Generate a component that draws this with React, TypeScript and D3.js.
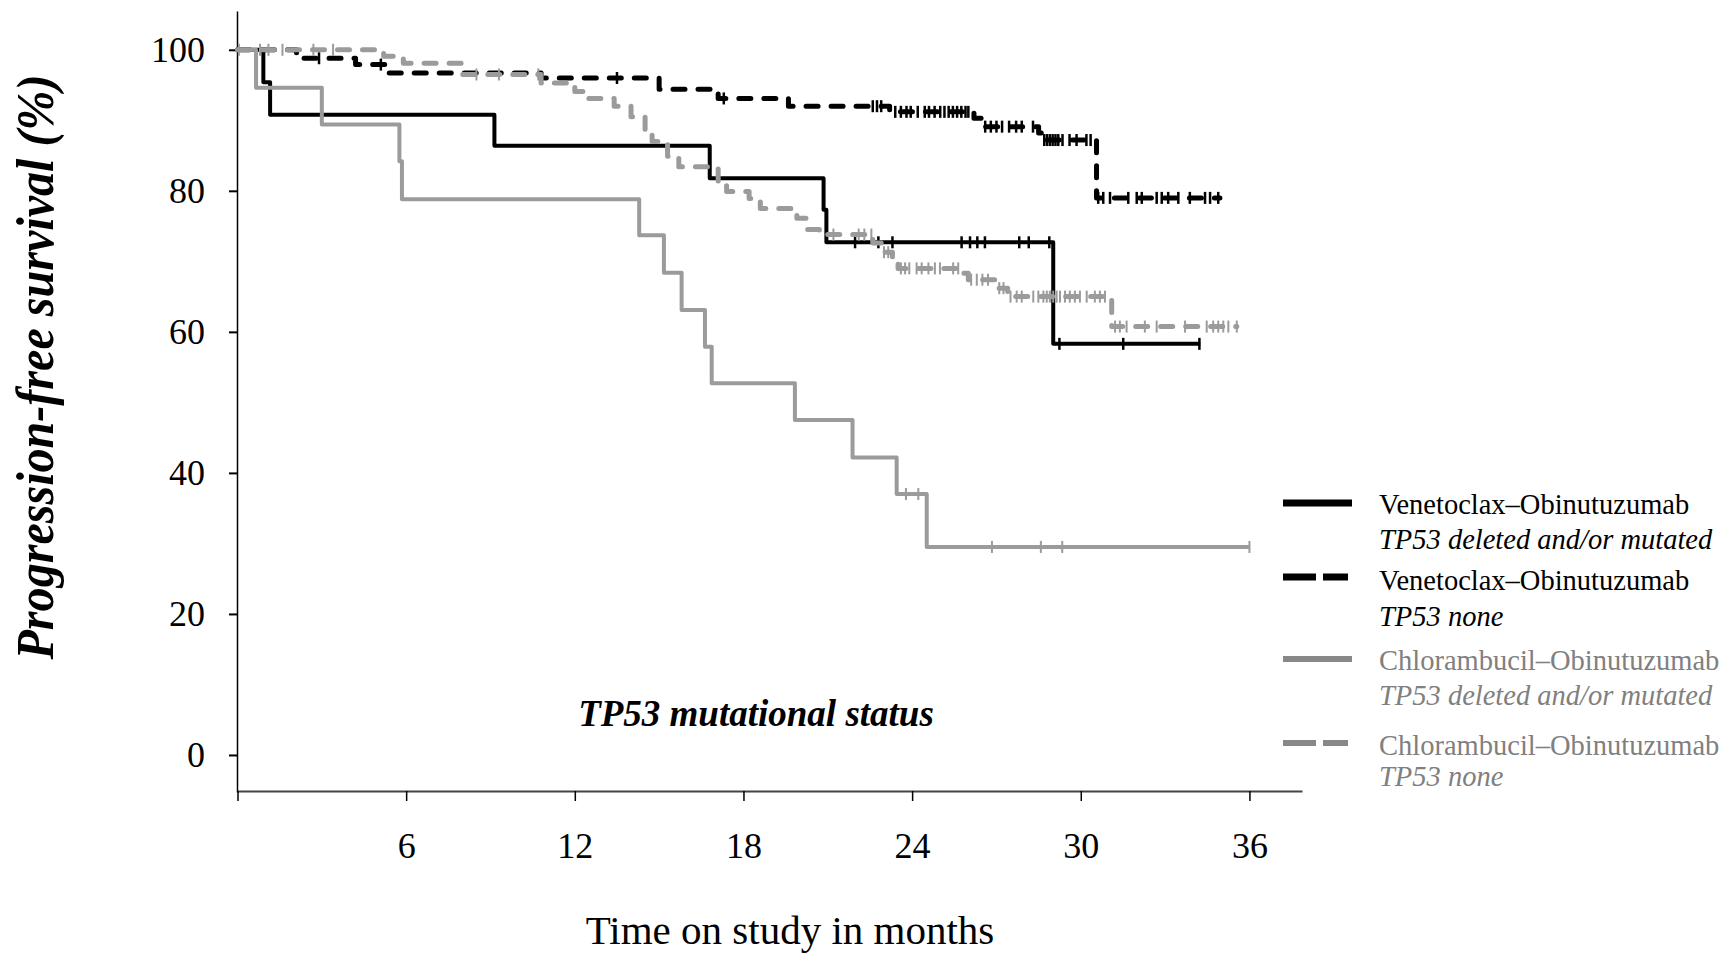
import React, { useRef, useEffect } from "react";
import * as d3 from "d3";

// Kaplan-Meier step points (months, % progression-free)
const venDelTimes = [0, 0.92, 1.16, 9.14, 16.8, 20.85, 20.95, 29.02, 34.25];
const venDelSurv = [100, 95.4, 90.8, 86.4, 81.8, 77.3, 72.7, 58.3, 58.3];
const venDelCensor = [21.97, 22.8, 23.3, 25.76, 26.06, 26.32, 26.59, 27.81, 28.15, 28.88, 29.24, 31.51, 34.22];

const venNoneTimes = [0, 2.1, 4.2, 5.3, 10.8, 15.0, 17.1, 19.6, 23.2, 26.2, 26.5, 28.5, 28.6, 30.56, 34.95];
const venNoneSurv = [100, 98.8, 97.9, 96.7, 96.0, 94.4, 93.1, 92.0, 91.2, 90.3, 89.1, 88.2, 87.2, 79.0, 79.0];
const venNoneCensor = [
  2.9, 5.1, 13.5, 17.3, 22.6, 22.75, 22.9, 23.4, 23.6, 23.8, 23.95, 24.2, 24.45, 24.6, 24.8, 25.0,
  25.15, 25.3, 25.45, 25.6, 25.75, 25.9, 26.0, 26.6, 26.8, 27.0, 27.2, 27.45, 27.7, 27.9, 28.3,
  28.7, 28.8, 28.9, 29.0, 29.1, 29.2, 29.35, 29.6, 29.85, 30.2, 30.35, 30.62, 30.8, 31.04, 31.69,
  31.99, 32.17, 32.7, 32.88, 33.11, 33.47, 33.88, 34.42, 34.6, 34.89,
];

const chlDelTimes = [0, 0.66, 3.0, 5.76, 5.85, 14.29, 15.17, 15.8, 16.63, 16.87, 19.83, 21.88, 23.45, 24.52, 36.0];
const chlDelSurv = [100, 94.6, 89.4, 84.2, 78.8, 73.7, 68.4, 63.1, 57.9, 52.7, 47.5, 42.2, 37.0, 29.5, 29.5];
const chlDelCensor = [23.78, 24.22, 26.84, 28.58, 29.34, 36.0];

const chlNoneTimes = [
  0, 5.2, 5.9, 8.0, 10.8, 12.0, 12.5, 13.4, 14.0, 14.5, 14.75, 15.3, 15.7, 17.1, 17.4, 18.2, 18.6,
  19.9, 20.25, 20.7, 22.6, 22.9, 23.3, 23.5, 25.7, 26.0, 27.0, 27.4, 31.1, 35.55,
];
const chlNoneSurv = [
  100, 99.1, 98.1, 96.5, 95.3, 94.1, 93.1, 92.0, 90.5, 88.7, 87.0, 84.9, 83.4, 81.3, 79.9, 78.9, 77.5,
  76.1, 74.5, 73.8, 72.6, 71.3, 70.2, 69.0, 68.3, 67.4, 66.2, 65.0, 60.75, 60.75,
];
const chlNoneCensor = [
  0.05, 0.8, 1.1, 1.6, 2.7, 3.4, 8.5, 9.3, 10.7, 21.2, 22.1, 22.3, 22.55, 23.0, 23.15, 23.6, 23.75,
  23.9, 24.16, 24.34, 24.58, 24.81, 24.99, 25.46, 25.64, 26.1, 26.3, 26.5, 26.7, 27.1, 27.25, 27.5,
  27.72, 27.9, 28.31, 28.49, 28.67, 28.79, 28.9, 29.02, 29.14, 29.26, 29.44, 29.61, 29.79, 29.97,
  30.21, 30.5, 30.68, 30.86, 31.22, 31.39, 31.63, 32.28, 32.7, 33.71, 34.48, 34.71, 34.89, 35.07,
  35.25, 35.55,
];

const monthTicks = [0, 6, 12, 18, 24, 30, 36];
const pfsTicks = [0, 20, 40, 60, 80, 100];

const legendTreatments = ["Venetoclax\u2013Obinutuzumab", "Venetoclax\u2013Obinutuzumab", "Chlorambucil\u2013Obinutuzumab", "Chlorambucil\u2013Obinutuzumab"];
const legendStatus = ["TP53 deleted and/or mutated", "TP53 none", "TP53 deleted and/or mutated", "TP53 none"];

const SERIF = "'Liberation Serif', 'Times New Roman', serif";
const GRAY = "#9b9b9b";

const App = () => {
  const svgRef = useRef(null);

  useEffect(() => {
    const svg = d3.select(svgRef.current);
    svg.selectAll("*").remove();

    const x = d3.scaleLinear().domain([0, 37.87]).range([237.5, 1302]);
    const y = d3.scaleLinear().domain([-5.25, 105.5]).range([792, 11]);

    // y axis
    const yAxis = svg
      .append("g")
      .attr("transform", "translate(237,0)")
      .call(d3.axisLeft(y).tickValues(pfsTicks).tickSize(8).tickSizeOuter(0).tickPadding(24));
    yAxis.select(".domain").attr("stroke", "#000").attr("stroke-width", 1.5);
    yAxis.selectAll(".tick line").attr("stroke-width", 2);
    yAxis
      .selectAll("text")
      .attr("font-family", SERIF)
      .attr("font-size", 36)
      .attr("fill", "#000");

    // x axis
    const xAxis = svg
      .append("g")
      .attr("transform", "translate(0,791)")
      .call(
        d3
          .axisBottom(x)
          .tickValues(monthTicks)
          .tickSize(10)
          .tickSizeOuter(0)
          .tickFormat((d) => (d === 0 ? "" : String(d)))
      );
    xAxis.select(".domain").attr("stroke", "#444").attr("stroke-width", 2);
    xAxis.selectAll(".tick line").attr("stroke-width", 1.5);
    xAxis
      .selectAll("text")
      .attr("y", 67)
      .attr("dy", null)
      .attr("font-family", SERIF)
      .attr("font-size", 36)
      .attr("fill", "#000");

    const series = [
      { t: venDelTimes, s: venDelSurv, c: venDelCensor, color: "#000", dash: null, w: 4, cw: 2.5 },
      { t: venNoneTimes, s: venNoneSurv, c: venNoneCensor, color: "#000", dash: "12,13", w: 5, cw: 2.5 },
      { t: chlDelTimes, s: chlDelSurv, c: chlDelCensor, color: GRAY, dash: null, w: 4, cw: 2 },
      { t: chlNoneTimes, s: chlNoneSurv, c: chlNoneCensor, color: GRAY, dash: "12,13", w: 5, cw: 2 },
    ];

    const line = d3
      .line()
      .x((d) => x(d[0]))
      .y((d) => y(d[1]))
      .curve(d3.curveStepAfter);

    series.forEach((sr) => {
      const pts = sr.t.map((t, i) => [t, sr.s[i]]);
      svg
        .append("path")
        .attr("d", line(pts))
        .attr("fill", "none")
        .attr("stroke", sr.color)
        .attr("stroke-width", sr.w)
        .attr("stroke-linejoin", "round")
        .attr("stroke-linecap", sr.dash ? "round" : "butt")
        .attr("stroke-dasharray", sr.dash);

      const valueAt = (t) => {
        const i = d3.bisectRight(sr.t, t) - 1;
        return sr.s[Math.max(0, i)];
      };
      svg
        .append("g")
        .selectAll("line")
        .data(sr.c)
        .enter()
        .append("line")
        .attr("x1", (d) => x(d))
        .attr("x2", (d) => x(d))
        .attr("y1", (d) => y(valueAt(d)) - 6)
        .attr("y2", (d) => y(valueAt(d)) + 6)
        .attr("stroke", sr.color)
        .attr("stroke-width", sr.cw);
    });

    // axis titles
    svg
      .append("text")
      .attr("transform", "translate(53,367) rotate(-90)")
      .attr("text-anchor", "middle")
      .attr("font-family", SERIF)
      .attr("font-size", 53)
      .attr("font-weight", "bold")
      .attr("font-style", "italic")
      .attr("textLength", 585)
      .attr("lengthAdjust", "spacingAndGlyphs")
      .text("Progression-free survival (%)");

    svg
      .append("text")
      .attr("x", 790)
      .attr("y", 944)
      .attr("text-anchor", "middle")
      .attr("font-family", SERIF)
      .attr("font-size", 41)
      .text("Time on study in months");

    svg
      .append("text")
      .attr("x", 756)
      .attr("y", 726)
      .attr("text-anchor", "middle")
      .attr("font-family", SERIF)
      .attr("font-size", 37)
      .attr("font-weight", "bold")
      .attr("font-style", "italic")
      .text("TP53 mutational status");

    // legend
    const sampleY = [503, 577, 659, 743];
    const nameY = [514, 590, 670, 755];
    const statusY = [549, 626, 705, 786];
    const legendColors = ["#000", "#000", "#888", "#888"];
    const textColors = ["#000", "#000", "#808080", "#808080"];
    const legend = svg.append("g");
    legendTreatments.forEach((name, i) => {
      legend
        .append("line")
        .attr("x1", 1283)
        .attr("x2", i % 2 === 0 ? 1352 : 1348)
        .attr("y1", sampleY[i])
        .attr("y2", sampleY[i])
        .attr("stroke", legendColors[i])
        .attr("stroke-width", i < 2 ? 7 : 6)
        .attr("stroke-dasharray", i % 2 === 1 ? "33,7" : null);
      legend
        .append("text")
        .attr("x", 1379)
        .attr("y", nameY[i])
        .attr("font-family", SERIF)
        .attr("font-size", 28.5)
        .attr("fill", textColors[i])
        .text(name);
      legend
        .append("text")
        .attr("x", 1379)
        .attr("y", statusY[i])
        .attr("font-family", SERIF)
        .attr("font-size", 28.5)
        .attr("font-style", "italic")
        .attr("fill", textColors[i])
        .text(legendStatus[i]);
    });
  }, []);

  return (
    <svg
      ref={svgRef}
      width={1729}
      height={954}
      style={{ position: "absolute", left: 0, top: 0, background: "#fff" }}
    ></svg>
  );
};

export default App;
